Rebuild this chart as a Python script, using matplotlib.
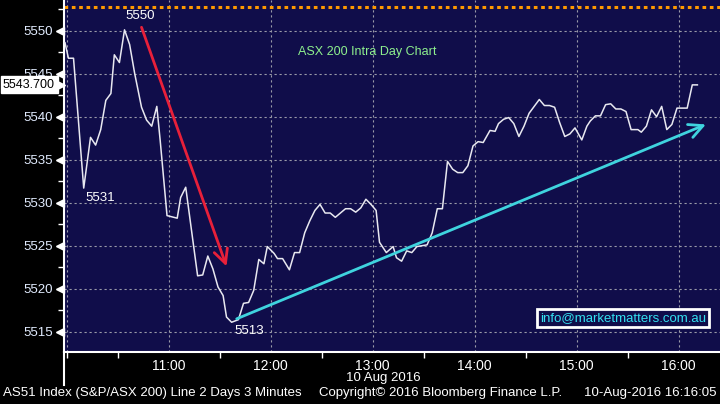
import matplotlib
matplotlib.use("Agg")
import matplotlib.pyplot as plt
import matplotlib.transforms as mtransforms
import numpy as np

plt.rcParams['font.family'] = ['Liberation Sans', 'DejaVu Sans']

# ASX 200 (AS51) 3 minute closes, 10 Aug 2016
times = ["09:59", "10:01", "10:04", "10:10", "10:14", "10:17", "10:20", "10:23", "10:26", "10:28",
         "10:31", "10:34", "10:37", "10:40", "10:44", "10:47", "10:50", "10:53", "10:55", "10:59",
         "11:05", "11:07", "11:10", "11:17", "11:20", "11:23", "11:26", "11:29", "11:32", "11:34",
         "11:37", "11:41", "11:44", "11:47", "11:50", "11:53", "11:56", "11:58", "12:02", "12:04",
         "12:07", "12:11", "12:14", "12:17", "12:20", "12:23", "12:26", "12:29", "12:32", "12:35",
         "12:38", "12:41", "12:44", "12:47", "12:50", "12:53", "12:56", "12:59", "13:02", "13:04",
         "13:08", "13:12", "13:14", "13:17", "13:20", "13:23", "13:26", "13:29", "13:32", "13:35",
         "13:38", "13:41", "13:44", "13:47", "13:50", "13:53", "13:56", "13:59", "14:02", "14:05",
         "14:09", "14:12", "14:14", "14:17", "14:20", "14:23", "14:26", "14:29", "14:32", "14:35",
         "14:38", "14:41", "14:44", "14:47", "14:50", "14:53", "14:56", "14:59", "15:03", "15:06",
         "15:08", "15:11", "15:14", "15:17", "15:20", "15:23", "15:26", "15:29", "15:32", "15:36",
         "15:38", "15:41", "15:44", "15:47", "15:50", "15:53", "15:56", "15:59", "16:03", "16:05",
         "16:08", "16:11"]
prices = [5548.6, 5546.8, 5546.8, 5531.7, 5537.6, 5536.7, 5538.5, 5541.9, 5542.7, 5547.2,
          5546.3, 5550.1, 5548.4, 5545.0, 5541.1, 5539.6, 5538.9, 5541.2, 5537.2, 5528.5,
          5528.2, 5530.6, 5531.8, 5521.5, 5521.6, 5523.8, 5522.3, 5520.2, 5519.2, 5516.7,
          5516.1, 5516.4, 5518.3, 5518.4, 5519.8, 5523.4, 5522.9, 5524.9, 5524.1, 5523.5,
          5523.5, 5522.2, 5524.2, 5524.2, 5526.5, 5527.9, 5529.1, 5529.8, 5528.8, 5528.8,
          5528.3, 5528.8, 5529.3, 5529.3, 5528.9, 5529.4, 5530.4, 5529.8, 5529.1, 5525.4,
          5524.2, 5524.9, 5523.6, 5523.2, 5524.4, 5524.2, 5524.9, 5525.0, 5525.1, 5526.5,
          5529.3, 5529.3, 5534.8, 5533.9, 5533.5, 5533.5, 5534.3, 5536.6, 5537.1, 5537.0,
          5538.4, 5538.3, 5539.2, 5539.7, 5539.9, 5539.2, 5537.7, 5538.9, 5540.4, 5541.2,
          5542.0, 5541.3, 5541.3, 5541.1, 5539.3, 5537.7, 5538.0, 5538.7, 5537.3, 5538.9,
          5539.5, 5540.1, 5540.1, 5541.4, 5541.5, 5540.9, 5540.9, 5540.6, 5538.5, 5538.5,
          5538.2, 5538.9, 5540.8, 5540.0, 5541.2, 5538.5, 5539.1, 5541.0, 5541.0, 5541.0,
          5543.7, 5543.7]

last_price = 5543.7
prev_level = 5552.72          # orange dotted level
yticks = [5515, 5520, 5525, 5530, 5535, 5540, 5545, 5550]
hour_labels = ["11:00", "12:00", "13:00", "14:00", "15:00", "16:00"]

# arrows drawn by the analyst (time, price)
red_arrow = [("10:44", 5550.4), ("11:34", 5522.6)]
cyan_arrow = [("11:40", 5516.5), ("16:16", 5539.1)]

navy = '#100d4a'


def tmin(s):
    # minutes after 10:00
    h, m = s.split(':')
    return (int(h) - 10) * 60 + float(m)


x = np.array([tmin(t) for t in times])

fig = plt.figure(figsize=(7.2, 4.04), dpi=100, facecolor='black')
ax = fig.add_axes([64 / 720., 1 - 352 / 404., 656 / 720., 352 / 404.])
ax.set_facecolor(navy)

############################################################
# grid
gridstyle = dict(color='#9a9aa8', ls=(0, (2, 2.5)), lw=0.8, zorder=1)
for h in range(0, 7):
    ax.axvline(h * 60, **gridstyle)
for yv in yticks:
    ax.axhline(yv, **gridstyle)
ax.axhline(prev_level, color='#ff9900', ls=(0, (1.2, 1.2)), lw=2.2, zorder=2)

# price line
ax.plot(x, prices, color='#e8e8f0', lw=1.1, zorder=3)

ax.set_xlim(-1.6, 384.3)
ax.set_ylim(5512.64, 5553.57)

############################################################
# axes / ticks
for s in ['top', 'right']:
    ax.spines[s].set_visible(False)
for s in ['left', 'bottom']:
    ax.spines[s].set_color('white')
    ax.spines[s].set_linewidth(1.5)
ax.plot([0, 0], [0, -33 / 352.], transform=ax.transAxes, color='white', lw=1.5, clip_on=False)

ax.set_yticks(yticks)
ax.set_yticklabels([str(v) for v in yticks])
ax.set_yticks(np.arange(5517.5, 5553, 5), minor=True)
ax.tick_params(axis='y', which='major', length=0, pad=8, labelcolor='#e2ecff', labelsize=9.5)
ax.tick_params(axis='y', which='minor', length=4, width=1, color='white', direction='out')

trans = mtransforms.blended_transform_factory(ax.transAxes, ax.transData)
ax.plot([-4.5 / 656.] * len(yticks), yticks, marker='<', ms=6, color='white', ls='none',
        transform=trans, clip_on=False)

ax.set_xticks([tmin(t) for t in hour_labels])
ax.set_xticklabels(hour_labels)
ax.set_xticks([0, 30, 90, 150, 210, 270, 330], minor=True)
ax.tick_params(axis='x', which='major', length=0, pad=5, labelcolor='white', labelsize=10)
ax.tick_params(axis='x', which='minor', length=4, width=1, color='white', direction='out')

############################################################
# annotations
ax.annotate('', xy=(tmin(red_arrow[1][0]), red_arrow[1][1]),
            xytext=(tmin(red_arrow[0][0]), red_arrow[0][1]),
            arrowprops=dict(arrowstyle='->,head_length=1.0,head_width=0.5', color='#e8203a',
                            lw=2, shrinkA=0, shrinkB=0), zorder=4)
ax.annotate('', xy=(tmin(cyan_arrow[1][0]), cyan_arrow[1][1]),
            xytext=(tmin(cyan_arrow[0][0]), cyan_arrow[0][1]),
            arrowprops=dict(arrowstyle='->,head_length=1.0,head_width=0.5', color='#3fd3de',
                            lw=2, shrinkA=0, shrinkB=0), zorder=4)

ax.text(43.1, 5551.7, '5550', color='white', ha='center', va='center', fontsize=9.5, zorder=5)
ax.text(19.6, 5530.5, '5531', color='white', ha='center', va='center', fontsize=9.5, zorder=5)
ax.text(107.2, 5515.1, '5513', color='white', ha='center', va='center', fontsize=9.5, zorder=5)

ax.text(0.462, 0.852, 'ASX 200 Intra Day Chart', color='#8ef08e', fontsize=9,
        ha='center', va='center', transform=ax.transAxes)

ax.text(0.852, 0.097, 'info@marketmatters.com.au', color='#33e0f0', fontsize=9.5,
        ha='center', va='center', transform=ax.transAxes, zorder=6,
        bbox=dict(facecolor=navy, edgecolor='white', lw=2, boxstyle='square,pad=0.25'))

# last price tag (drawn over the 5545 label, like the terminal does)
ax.text(-61 / 656., last_price, '%.3f' % last_price, color='black', fontsize=9,
        ha='left', va='center', transform=trans, clip_on=False, zorder=7,
        bbox=dict(facecolor='white', edgecolor='white', boxstyle='square,pad=0.2'))
ax.plot([-3 / 656.], [last_price], marker='>', ms=6, color='white', ls='none',
        transform=trans, clip_on=False, zorder=6)

############################################################
# footer
fig.text(383.5 / 720., 1 - 378 / 404., '10 Aug 2016', color='white', fontsize=9.5,
         ha='center', va='center')
fig.text(3 / 720., 1 - 393 / 404., 'AS51 Index (S&P/ASX 200) Line 2 Days 3 Minutes',
         color='white', fontsize=9.5, ha='left', va='center')
fig.text(441 / 720., 1 - 393 / 404., 'Copyright\u00a9 2016 Bloomberg Finance L.P.',
         color='white', fontsize=9.5, ha='center', va='center')
fig.text(717 / 720., 1 - 393 / 404., '10-Aug-2016 16:16:05', color='white', fontsize=9.5,
         ha='right', va='center')

fig.savefig('out.png', dpi=100, facecolor='black')
